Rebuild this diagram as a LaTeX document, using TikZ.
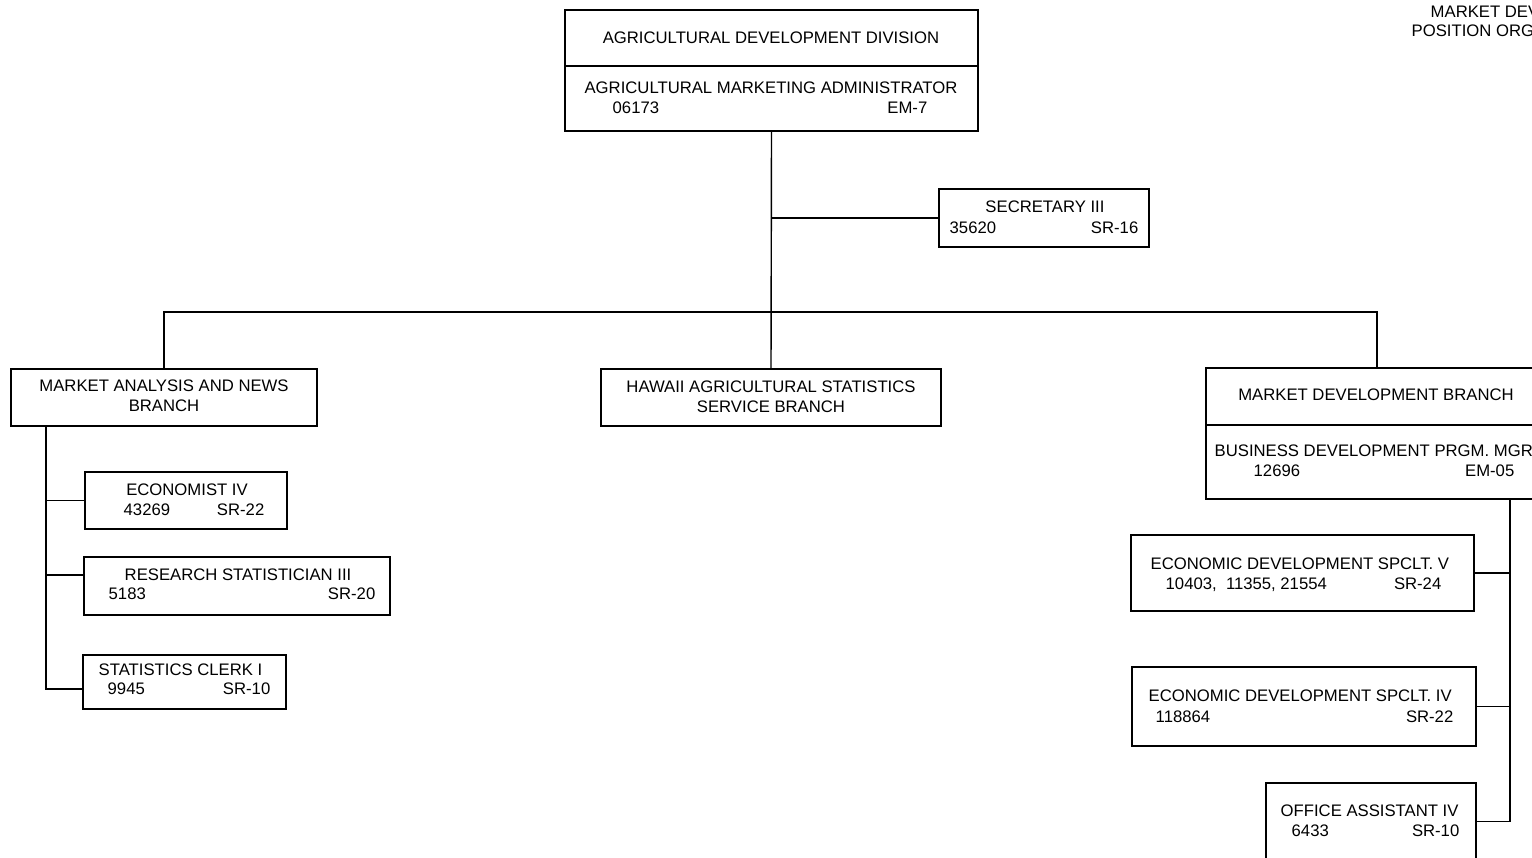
\documentclass[tikz,border=0pt]{standalone}
\usepackage{fontspec}
\setmainfont{Liberation Sans}
\usetikzlibrary{fit}

\begin{document}
\begin{tikzpicture}[x=0.02cm, y=-0.02cm, line width=0.8pt,
    font=\fontsize{9.5}{11}\selectfont,
    box/.style={draw, inner sep=0pt},
    txt/.style={inner sep=0pt, text height=6.8pt, text depth=0pt}]
  \useasboundingbox (0,0) rectangle (1532,858);
  \clip (0,0) rectangle (1532,858);

  % division head
  \node[box, fit={(565,10) (978,66)}] (add) {};
  \node[box, fit={(565,66) (978,131)}] (adm) {};
  \node[txt] (add-t) at (771,38) {AGRICULTURAL DEVELOPMENT DIVISION};
  \node[txt] (adm-t) at (771,88) {AGRICULTURAL MARKETING ADMINISTRATOR};
  \node[txt, anchor=west] (adm-n) at (612,108) {06173};
  \node[txt, anchor=east] (adm-g) at (928,108) {EM-7};

  \node[box, fit={(939,189) (1149,247)}] (sec) {};
  \node[txt] (sec-t) at (1045,207) {SECRETARY III};
  \node[txt, anchor=west] (sec-n) at (949,228) {35620};
  \node[txt, anchor=east] (sec-g) at (1139,228) {SR-16};

  % branches
  \node[box, fit={(11,369) (317,426)}] (mab) {};
  \node[txt] (mab-t1) at (164,386) {MARKET ANALYSIS AND NEWS};
  \node[txt] (mab-t2) at (164,406) {BRANCH};

  \node[box, fit={(601,369) (941,426)}] (hass) {};
  \node[txt] (hass-t1) at (771,387) {HAWAII AGRICULTURAL STATISTICS};
  \node[txt] (hass-t2) at (771,407) {SERVICE BRANCH};

  \node[box, fit={(1206,368) (1548,425)}] (mdb) {};
  \node[box, fit={(1206,425) (1548,499)}] (bdpm) {};
  \node[txt] (mdb-t) at (1376,395) {MARKET DEVELOPMENT BRANCH};
  \node[txt, anchor=west] (bdpm-t) at (1214,451) {BUSINESS DEVELOPMENT PRGM. MGR};
  \node[txt, anchor=west] (bdpm-n) at (1253,471) {12696};
  \node[txt, anchor=east] (bdpm-g) at (1515,471) {EM-05};

  % market analysis positions
  \node[box, fit={(85,472) (287,529)}] (econ) {};
  \node[txt] (econ-t) at (187,490) {ECONOMIST IV};
  \node[txt, anchor=west] (econ-n) at (123,510) {43269};
  \node[txt, anchor=east] (econ-g) at (265,510) {SR-22};

  \node[box, fit={(84,557) (390,615)}] (rstat) {};
  \node[txt] (rstat-t) at (238,575) {RESEARCH STATISTICIAN III};
  \node[txt, anchor=west] (rstat-n) at (108,594) {5183};
  \node[txt, anchor=east] (rstat-g) at (376,594) {SR-20};

  \node[box, fit={(83,655) (286,709)}] (sclerk) {};
  \node[txt, anchor=west] (sclerk-t) at (98,670) {STATISTICS CLERK I};
  \node[txt, anchor=west] (sclerk-n) at (107,689) {9945};
  \node[txt, anchor=east] (sclerk-g) at (271,689) {SR-10};

  % market development positions
  \node[box, fit={(1131,535) (1474,611)}] (eds5) {};
  \node[txt, anchor=west] (eds5-t) at (1150,564) {ECONOMIC DEVELOPMENT SPCLT. V};
  \node[txt, anchor=west] (eds5-n) at (1165,584) {10403,\ \ 11355, 21554};
  \node[txt, anchor=east] (eds5-g) at (1442,584) {SR-24};

  \node[box, fit={(1132,667) (1476,746)}] (eds4) {};
  \node[txt, anchor=west] (eds4-t) at (1148,696) {ECONOMIC DEVELOPMENT SPCLT. IV};
  \node[txt, anchor=west] (eds4-n) at (1155,717) {118864};
  \node[txt, anchor=east] (eds4-g) at (1454,717) {SR-22};

  \node[box, fit={(1266,783) (1476,860)}] (oa4) {};
  \node[txt, anchor=west] (oa4-t) at (1280,811) {OFFICE ASSISTANT IV};
  \node[txt, anchor=west] (oa4-n) at (1291,831) {6433};
  \node[txt, anchor=east] (oa4-g) at (1460,831) {SR-10};

  % chart title
  \node[txt, anchor=west] (title1) at (1430,12) {MARKET DEV};
  \node[txt, anchor=west] (title2) at (1411,31) {POSITION ORG};

  % connectors
  \coordinate (bar) at (771,312);
  \coordinate (lspine) at (46,426);
  \coordinate (rspine) at (1510,499);
  \draw (adm.south) -- (hass.north);
  \draw (sec.west) -- (sec.west -| adm.south);
  \draw (mab.north) |- (bar) -| (mdb.north);
  \draw (mab.south -| lspine) |- ([yshift=-0.14cm]sclerk.west);
  \draw (econ.west) -- (econ.west -| lspine);
  \draw ([yshift=0.22cm]rstat.west) -- ([yshift=0.22cm]rstat.west -| lspine);
  \draw (bdpm.south -| rspine) |- (oa4.east);
  \draw (eds5.east) -- (eds5.east -| rspine);
  \draw (eds4.east) -- (eds4.east -| rspine);
\end{tikzpicture}
\end{document}
